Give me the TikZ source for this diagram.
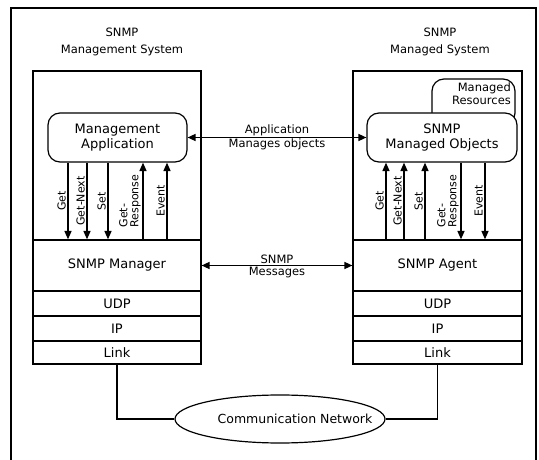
\documentclass[tikz,border=0pt]{standalone}
\usepackage{fontspec}
\setmainfont{DejaVu Sans}
\usepackage{tikz}
\usetikzlibrary{arrows.meta,shapes}

\tikzset{
	layer/.style={draw, line width=1.2pt, inner sep=0pt, font=\fontsize{13}{15}\selectfont},
	objbox/.style={draw, fill=white, line width=1.2pt, rounded corners=12pt, inner sep=0pt,
		align=center, font=\fontsize{13}{15.5}\selectfont},
	systitle/.style={align=center, font=\fontsize{11.5}{16.5}\selectfont},
	small/.style={inner sep=1pt, font=\fontsize{11.5}{13}\selectfont},
	msg/.style={line width=1.5pt, {Triangle[length=8pt,width=7pt]}-{Triangle[length=8pt,width=7pt]}},
	op/.style={line width=1.5pt, -{Triangle[length=8.5pt,width=7pt]}},
	oplabel/.style={midway, above, rotate=90, inner sep=1.5pt, align=left,
		font=\fontsize{11}{11}\selectfont},
}

\begin{document}
\begin{tikzpicture}[x=1pt,y=-1pt]
		\useasboundingbox (0,0) rectangle (539,460);
		\draw[line width=1.2pt] (11,8) rectangle (536,463);

		% manager side
		\node[systitle] (mgrtitle) at (122,42) {SNMP\\Management System};
		\node[layer, minimum width=168pt, minimum height=293pt] (mgrsys) at (117,217.5) {};
		\node[layer, minimum width=168pt, minimum height=51pt] (mgr) at (117,265.5) {SNMP Manager};
		\node[layer, minimum width=168pt, minimum height=25pt] (udpL) at (117,303.5) {UDP};
		\node[layer, minimum width=168pt, minimum height=25pt] (ipL) at (117,328.5) {IP};
		\node[layer, minimum width=168pt, minimum height=23pt] (linkL) at (117,352.5) {Link};
		\node[objbox, minimum width=139pt, minimum height=49pt] (app) at (117.5,137.5) {Management\\Application};

		% agent side
		\node[systitle] (agttitle) at (440,42) {SNMP\\Managed System};
		\node[layer, minimum width=169pt, minimum height=293pt] (agtsys) at (437.5,217.5) {};
		\node[layer, minimum width=169pt, minimum height=51pt] (agent) at (437.5,265.5) {SNMP Agent};
		\node[layer, minimum width=169pt, minimum height=25pt] (udpR) at (437.5,303.5) {UDP};
		\node[layer, minimum width=169pt, minimum height=25pt] (ipR) at (437.5,328.5) {IP};
		\node[layer, minimum width=169pt, minimum height=23pt] (linkR) at (437.5,352.5) {Link};
		\node[objbox, minimum width=83pt, minimum height=46pt] (res) at (473.5,102) {};
		\node[small, anchor=north east, align=right] (reslbl) at (512,82) {Managed\\Resources};
		\node[objbox, minimum width=150pt, minimum height=49pt] (obj) at (442,137.5) {SNMP\\Managed Objects};

		% network
		\node[draw, ellipse, line width=1.2pt, minimum width=210pt, minimum height=48pt] (net) at (280,419) {};
		\node[font=\fontsize{12.5}{15}\selectfont] (netlbl) at (295,419) {Communication Network};
		\draw[line width=1.4pt] (linkL.south) |- (net.west);
		\draw[line width=1.4pt] (linkR.south) |- (net.east);

		% operations
		\foreach \x/\lbl in {68/Get, 87/Get-Next, 108/Set}
			\draw[op] (\x,0 |- app.south) -- (\x,0 |- mgr.north) node[oplabel] {\lbl};
		\foreach \x/\lbl in {143/{Get-\\Response}, 167/Event}
			\draw[op] (\x,0 |- mgr.north) -- (\x,0 |- app.south) node[oplabel] {\lbl};
		\foreach \x/\lbl in {386/Get, 404/Get-Next, 425/Set}
			\draw[op] (\x,0 |- agent.north) -- (\x,0 |- obj.south) node[oplabel] {\lbl};
		\foreach \x/\lbl in {461/{Get-\\Response}, 485/Event}
			\draw[op] (\x,0 |- obj.south) -- (\x,0 |- agent.north) node[oplabel] {\lbl};

		\draw[msg] (app.east) -- (obj.west)
			node[midway, above, small] {Application}
			node[midway, below, small] {Manages objects};
		\draw[msg] (mgr.east) -- (agent.west)
			node[midway, above, small] {SNMP}
			node[midway, below, small] {Messages};
	\end{tikzpicture}
\end{document}
